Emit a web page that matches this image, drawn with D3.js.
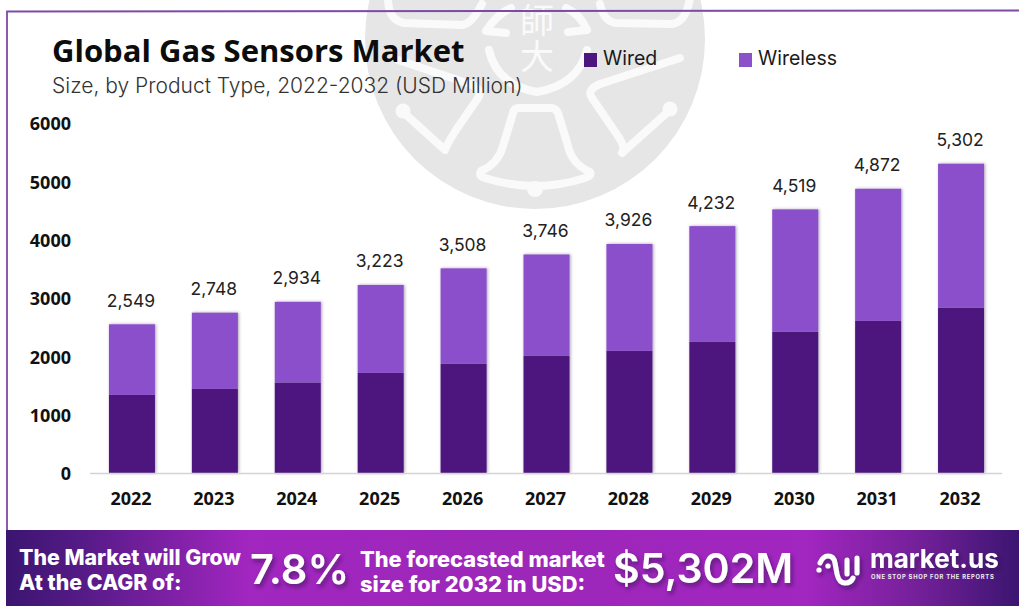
<!DOCTYPE html>
<html>
<head>
<meta charset="utf-8">
<script src="https://cdn.jsdelivr.net/npm/d3@7"></script>
<style>
  html, body { margin: 0; padding: 0; background: #fff; }
  svg { display: block; }
  .sans { font-family: "Open Sans", sans-serif; }
  .geo { font-family: Inter, sans-serif; }
</style>
</head>
<body>
<svg id="chart" width="1019" height="606"></svg>
<script>
const years = ["2022","2023","2024","2025","2026","2027","2028","2029","2030","2031","2032"];
const wired = [1338,1441,1552,1715,1870,2007,2093,2247,2419,2607,2830];
const wireless = [1211,1307,1382,1508,1638,1739,1833,1985,2100,2265,2472];
const yTicks = [0,1000,2000,3000,4000,5000,6000];
const seriesNames = ["Wired","Wireless"];
const seriesColors = ["#4d167f","#8c50cb"];

const svg = d3.select("#chart");
const defs = svg.append("defs");

// Banner gradient, dark at both ends
const grad = defs.append("linearGradient").attr("id","bannerFill");
[[0,"#3b1570"],[0.08,"#571b88"],[0.24,"#a226c0"],[0.5,"#9c27b8"],[0.79,"#a226c0"],[0.9,"#742099"],[1,"#3b1570"]]
  .forEach(([o,c]) => grad.append("stop").attr("offset",o).attr("stop-color",c));

const barShadow = defs.append("filter").attr("id","barShadow")
  .attr("x","-15%").attr("y","-5%").attr("width","130%").attr("height","110%");
barShadow.append("feDropShadow").attr("dx",1).attr("dy",0).attr("stdDeviation",1.4)
  .attr("flood-color","#3a2a55").attr("flood-opacity",0.45);

const textShadow = defs.append("filter").attr("id","textShadow")
  .attr("x","-10%").attr("y","-20%").attr("width","120%").attr("height","150%");
textShadow.append("feDropShadow").attr("dx",2).attr("dy",3).attr("stdDeviation",2)
  .attr("flood-color","#2a0a45").attr("flood-opacity",0.55);

// Emblem behind the heading
const emblemFill = "#e6e6e6", emblemLine = "#fafafa";
const emblem = svg.append("g");
emblem.append("circle").attr("cx",535).attr("cy",39).attr("r",170).attr("fill",emblemFill);
const emblemLines = [
  // upper petals
  "M388,-2 Q388,20 404,23 L462,25 Q472,24 482,4",
  "M600,4 Q604,22 616,23 L672,24 Q686,22 690,-2",
  // side petals
  "M680,58 L600,84 Q586,90 592,98 L618,136 Q626,148 622,153 L670,110",
  "M398,60 L470,84 Q484,90 478,98 L456,130 Q446,146 445,150 L403,112",
  // bell
  "M519,108 L551,108 Q556,108 558,113 L568,146 Q572,164 590,172 Q592,176 585,178 Q535,194 485,178 Q478,176 481,171 Q498,164 503,146 L513,113 Q514,108 519,108 Z",
  // ring around the characters
  "M489,50 Q497,85 537,92 Q578,85 587,50",
  "M511,8 Q497,14 486,31 L506,33",
  "M566,8 Q580,14 587,30 L568,32"
];
emblem.selectAll("path").data(emblemLines).join("path")
  .attr("d", d => d).attr("fill","none").attr("stroke",emblemLine)
  .attr("stroke-width",8).attr("stroke-linecap","round").attr("stroke-linejoin","round");
emblem.selectAll("circle.knob").data([[535,189,8],[670,109,7.5],[403,111,7.5]]).join("circle")
  .attr("class","knob").attr("cx",d => d[0]).attr("cy",d => d[1]).attr("r",d => d[2]).attr("fill",emblemLine);
emblem.append("text").attr("x",537).attr("y",3)
  .style("writing-mode","vertical-rl").style("text-orientation","upright")
  .attr("font-family",'"Noto Sans CJK TC"').attr("font-size",34).attr("font-weight",400)
  .attr("letter-spacing",2).attr("fill",emblemLine).text("師大");

// Frame around the plot area
svg.append("path").attr("d","M7,530 L7,11.5 L1019,10.5").attr("fill","none")
  .attr("stroke","#7d4aa8").attr("stroke-width",1.8);

// Scales
const x = d3.scaleBand().domain(years).range([90.5,1002.5]).paddingInner(0.445).paddingOuter(0.2225);
const y = d3.scaleLinear().domain([0,6000]).range([473,123]);

// Stacked bars
const stackRows = years.map((yr,i) => ({year:yr, Wired:wired[i], Wireless:wireless[i]}));
const stacked = d3.stack().keys(seriesNames)(stackRows);
svg.append("g").selectAll("g").data(stacked).join("g")
  .attr("fill",(d,i) => seriesColors[i])
  .attr("filter","url(#barShadow)")
  .selectAll("rect").data(d => d).join("rect")
  .attr("x",d => x(d.data.year)).attr("width",x.bandwidth())
  .attr("y",d => y(d[1])).attr("height",d => y(d[0]) - y(d[1]));

// Axes
const yAxis = svg.append("g").attr("transform","translate(71,1)")
  .call(d3.axisLeft(y).tickValues(yTicks).tickFormat(d3.format("d")).tickSize(0).tickPadding(0));
yAxis.select(".domain").remove();
yAxis.selectAll("text").attr("font-size",18).attr("font-weight",700)
  .attr("fill","#111").style("font-family",'"Open Sans", sans-serif');

const xAxis = svg.append("g").attr("transform","translate(-1,473)")
  .call(d3.axisBottom(x).tickSize(0).tickPadding(19));
xAxis.select(".domain").attr("stroke","#d4d4d4").attr("stroke-width",1.5);
xAxis.selectAll("text").attr("font-size",18).attr("font-weight",700)
  .attr("fill","#111").style("font-family",'"Open Sans", sans-serif');

// Totals above each bar
svg.append("g").selectAll("text").data(stackRows).join("text")
  .attr("class","geo")
  .attr("x",d => x(d.year) + x.bandwidth()/2 - 1)
  .attr("y",d => y(d.Wired + d.Wireless) - 17.5)
  .attr("text-anchor","middle").attr("font-size",17.5).attr("fill","#222")
  .text(d => d3.format(",")(d.Wired + d.Wireless));

// Heading
svg.append("text").attr("class","sans").attr("x",52).attr("y",62)
  .attr("font-size",31).attr("font-weight",700).attr("fill","#0c0c0c").text("Global Gas Sensors Market");
svg.append("text").attr("class","geo").attr("x",52).attr("y",93)
  .attr("font-size",21).attr("font-weight",300).attr("fill","#333")
  .text("Size, by Product Type, 2022-2032 (USD Million)");

// Legend
const legendX = [584,739];
const legend = svg.append("g").selectAll("g").data(seriesNames).join("g")
  .attr("transform",(d,i) => `translate(${legendX[i]},53)`);
legend.append("rect").attr("width",13).attr("height",14).attr("fill",(d,i) => seriesColors[i]);
legend.append("text").attr("class","geo").attr("x",19).attr("y",12)
  .attr("font-size",19.5).attr("fill","#1a1a1a").text(d => d);

// Bottom banner
svg.append("rect").attr("x",6).attr("y",530).attr("width",1013).attr("height",76).attr("fill","url(#bannerFill)");
const bannerText = [
  ["The Market will Grow",19,565,21.3,800,0],
  ["At the CAGR of:",19,590,21.3,800,0],
  ["The forecasted market",360,567,21.8,800,0],
  ["size for 2032 in USD:",360,592,21.8,800,0],
  ["7.8%",250,584,41.5,600,1],
  ["$5,302M",613,583,41,600,1]
];
svg.append("g").selectAll("text").data(bannerText).join("text")
  .attr("class","geo").attr("x",d => d[1]).attr("y",d => d[2])
  .attr("font-size",d => d[3]).attr("font-weight",d => d[4]).attr("fill","#fff")
  .attr("filter",d => d[5] ? "url(#textShadow)" : null).text(d => d[0]);

// Brand mark
const brand = svg.append("g").attr("filter","url(#textShadow)");
brand.append("path")
  .attr("d","M820,563 Q823,556 828,556 Q834,556 835,563 L837,574 Q839,583 845,583 Q851,583 853,578 M847,560 L847,574 M857,558 L857,573")
  .attr("fill","none").attr("stroke","#fff").attr("stroke-width",5).attr("stroke-linecap","round");
brand.selectAll("circle").data([[819,570],[828,566]]).join("circle")
  .attr("cx",d => d[0]).attr("cy",d => d[1]).attr("r",2.6).attr("fill","#fff");
brand.append("text").attr("class","geo").attr("x",870).attr("y",568)
  .attr("font-size",26).attr("font-weight",700).attr("fill","#fff").text("market.us");
svg.append("text").attr("class","geo").attr("x",871).attr("y",579)
  .attr("font-size",5.8).attr("font-weight",700).attr("letter-spacing",0.75).attr("fill","#eee")
  .text("ONE STOP SHOP FOR THE REPORTS");
</script>
</body>
</html>
